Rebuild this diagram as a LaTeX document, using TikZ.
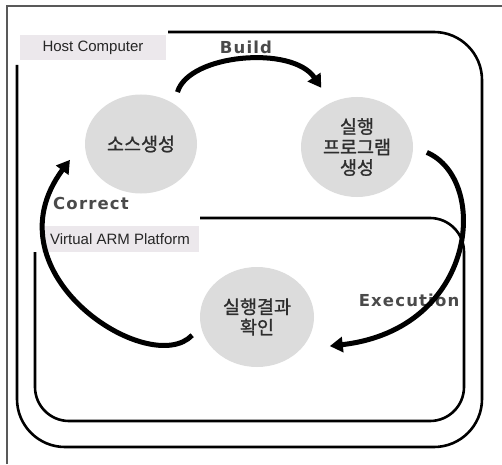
\documentclass[tikz,border=0pt]{standalone}
\usepackage{fontspec}
\newfontfamily\krfont{Noto Sans CJK KR}[FakeBold=1.2]
\newfontfamily\boxfont{Liberation Sans}
\newfontfamily\flowfont{DejaVu Sans}[LetterSpace=7]
\usetikzlibrary{arrows.meta,shapes.geometric}
\definecolor{stagegray}{HTML}{DCDCDC}
\definecolor{tagfill}{HTML}{ECE8EC}
\definecolor{krtext}{HTML}{2E2E2E}
\definecolor{flowgray}{HTML}{4A4A4A}

\begin{document}
\begin{tikzpicture}[x=1pt, y=1pt,
	stage/.style={ellipse, fill=stagegray, minimum width=112pt, minimum height=99pt, inner sep=0pt, align=center, text=krtext, font=\krfont\fontsize{18.5}{20.5}\selectfont},
	tag/.style={fill=tagfill, inner sep=0pt, text=black!85, font=\boxfont\fontsize{15}{16}\selectfont},
	flowtext/.style={text=flowgray, font=\flowfont\bfseries\fontsize{16.5}{18}\selectfont},
	frame/.style={line width=2.6pt, rounded corners=48pt},
	flow/.style={line width=5pt, -{Triangle[length=13pt,width=15pt]}}]
	\useasboundingbox (0,0) rectangle (502,464);
	\draw[black!65, line width=1.3pt] (7,0) -- (7,458) -- (502,458);

	% host and virtual platform outlines
	\draw[frame] (168,432) -- (482,432) -- (482,17) -- (17,17) -- (17,399);
	\draw[frame, rounded corners=34pt] (200,246) -- (464,246) -- (464,43) -- (35,43) -- (35,212);
	\node[tag, minimum width=146pt, minimum height=25pt] (host) at (93,416.5) {Host Computer};
	\node[tag, minimum width=157pt, minimum height=26pt] (vap) at (120,225) {Virtual ARM Platform};

	\node[stage] (src) at (141,320) {소스생성};
	\node[stage, minimum height=100pt] (prog) at (357,317) {실행\\프로그램\\생성};
	\node[stage, minimum width=114pt, minimum height=100pt] (result) at (257,147) {실행결과\\확인};

	\node[flowtext] (build) at (246,417) {Build};
	\node[flowtext] (correct) at (91,261) {Correct};
	\node[flowtext] (exec) at (409,164) {Execution};

	\draw[flow] ([shift={(3pt,12pt)}]src.50) .. controls +(11,38) and +(-29,43) .. ([shift={(-2pt,19pt)}]prog.130);
	\draw[flow] ([shift={(16pt,9pt)}]prog.-15) .. controls +(63,-27) and +(148,17) .. ([shift={(25pt,-1.5pt)}]result.-30);
	\draw[flow] ([shift={(-12pt,1pt)}]result.200) .. controls +(-42,-44) and +(-85,-114) .. ([shift={(-27pt,15pt)}]src.215);
\end{tikzpicture}
\end{document}
